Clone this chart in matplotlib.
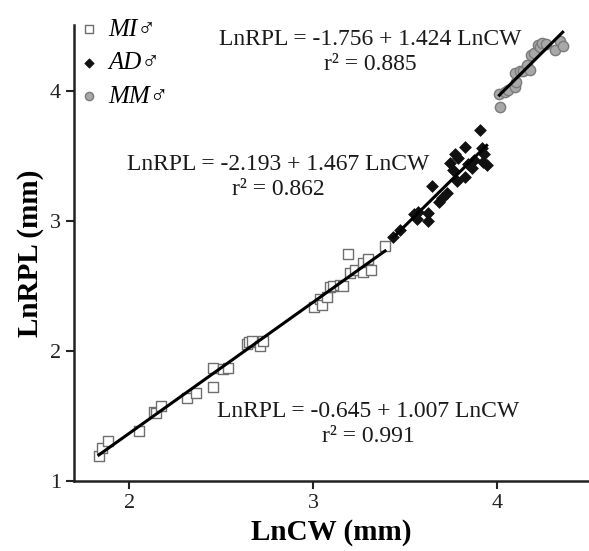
import numpy as np
import matplotlib
matplotlib.use("Agg")
import matplotlib.pyplot as plt

# ---- data ----
mi_x = [1.835, 1.85, 1.883, 2.054, 2.136, 2.145, 2.172, 2.315, 2.361, 2.457, 2.457,
        2.508, 2.535, 2.638, 2.651, 2.665, 2.71, 2.728, 3.004, 3.036, 3.046, 3.077,
        3.091, 3.107, 3.145, 3.16, 3.19, 3.199, 3.227, 3.268, 3.272, 3.299, 3.314, 3.39]
mi_y = [1.192, 1.252, 1.31, 1.387, 1.533, 1.523, 1.579, 1.636, 1.679, 1.721, 1.872,
        1.859, 1.867, 2.052, 2.069, 2.079, 2.041, 2.075, 2.342, 2.402, 2.354, 2.419,
        2.495, 2.5, 2.508, 2.5, 2.744, 2.598, 2.623, 2.675, 2.61, 2.705, 2.623, 2.808]

ad_x = [3.435, 3.471, 3.549, 3.571, 3.562, 3.622, 3.625, 3.643, 3.683, 3.701, 3.725,
        3.743, 3.761, 3.770, 3.779, 3.787, 3.824, 3.824, 3.842, 3.861, 3.875, 3.906,
        3.915, 3.929, 3.942, 3.924]
ad_y = [2.879, 2.931, 3.052, 3.072, 3.015, 3.0, 3.059, 3.272, 3.144, 3.179, 3.213,
        3.444, 3.392, 3.513, 3.308, 3.485, 3.341, 3.572, 3.436, 3.405, 3.469, 3.7,
        3.559, 3.513, 3.431, 3.456]

mm_x = [4.015, 4.011, 4.042, 4.060, 4.096, 4.102, 4.096, 4.123, 4.141, 4.163, 4.178,
        4.182, 4.2, 4.223, 4.232, 4.241, 4.265, 4.314, 4.341, 4.355]
mm_y = [3.875, 3.977, 3.995, 4.008, 4.033, 4.072, 4.141, 4.156, 4.154, 4.2, 4.162,
        4.277, 4.29, 4.354, 4.34, 4.372, 4.362, 4.315, 4.387, 4.346]

labels = ["MI\u2642", "AD\u2642", "MM\u2642"]
equations = ["LnRPL = -0.645 + 1.007 LnCW\nr\u00b2 = 0.991",
             "LnRPL = -2.193 + 1.467 LnCW\nr\u00b2 = 0.862",
             "LnRPL = -1.756 + 1.424 LnCW\nr\u00b2 = 0.885"]
xticks = [2, 3, 4]
yticks = [1, 2, 3, 4]

serif = ["Liberation Serif", "DejaVu Serif"]
plt.rcParams["font.family"] = serif

fig = plt.figure(figsize=(5.89, 5.51), dpi=100)
ax = fig.add_axes([74/589, 1-481/551, 1-74/589, (481-25)/551])

ax.scatter(mi_x, mi_y, marker="s", s=42, facecolor="white", edgecolor="#6e6e6e",
           linewidth=1.0, zorder=3, label=labels[0])
ax.scatter(ad_x, ad_y, marker="D", s=36, facecolor="#111111", edgecolor="#111111",
           linewidth=0.5, zorder=3, label=labels[1])
ax.scatter(mm_x, mm_y, marker="o", s=55, facecolor="#a8a8a8", edgecolor="#7a7a7a",
           linewidth=1.0, zorder=3, label=labels[2])

for gx, gy in [(mi_x, mi_y), (ad_x, ad_y), (mm_x, mm_y)]:
    gx = np.array(gx); gy = np.array(gy)
    b, a = np.polyfit(gx, gy, 1)
    xs = np.array([gx.min(), gx.max()])
    ax.plot(xs, a + b * xs, color="black", lw=2.2, zorder=4)

pos = [(368, 424), (278, 177), (370, 52)]
for (px, py), t in zip(pos, equations):
    fig.text(px/589, 1-py/551, t, fontsize=17, ha="center", va="center",
             linespacing=1.3, family=serif, color="#1a1a1a")

ax.set_xlim(1.70, 4.498)
ax.set_ylim(1.0, 4.508)
ax.set_xticks(xticks)
ax.set_yticks(yticks)
ax.tick_params(axis="both", direction="out", length=6, width=1.5, labelsize=16,
               colors="#222222")
for s in ["top", "right"]:
    ax.spines[s].set_visible(False)
for s in ["left", "bottom"]:
    ax.spines[s].set_linewidth(1.8)
    ax.spines[s].set_color("#222222")

ax.set_xlabel("LnCW (mm)", fontsize=21, fontweight="bold", labelpad=4)
ax.set_ylabel("LnRPL (mm)", fontsize=21, fontweight="bold", labelpad=4)

leg = ax.legend(loc="upper left", bbox_to_anchor=(76/589, 1-18/551),
                bbox_transform=fig.transFigure, frameon=False,
                prop=dict(family=serif, style="italic", size=18),
                handletextpad=0.3, labelspacing=0.45, handlelength=1.0,
                borderaxespad=0, borderpad=0, markerscale=0.8)

fig.savefig("out.png", dpi=100)
